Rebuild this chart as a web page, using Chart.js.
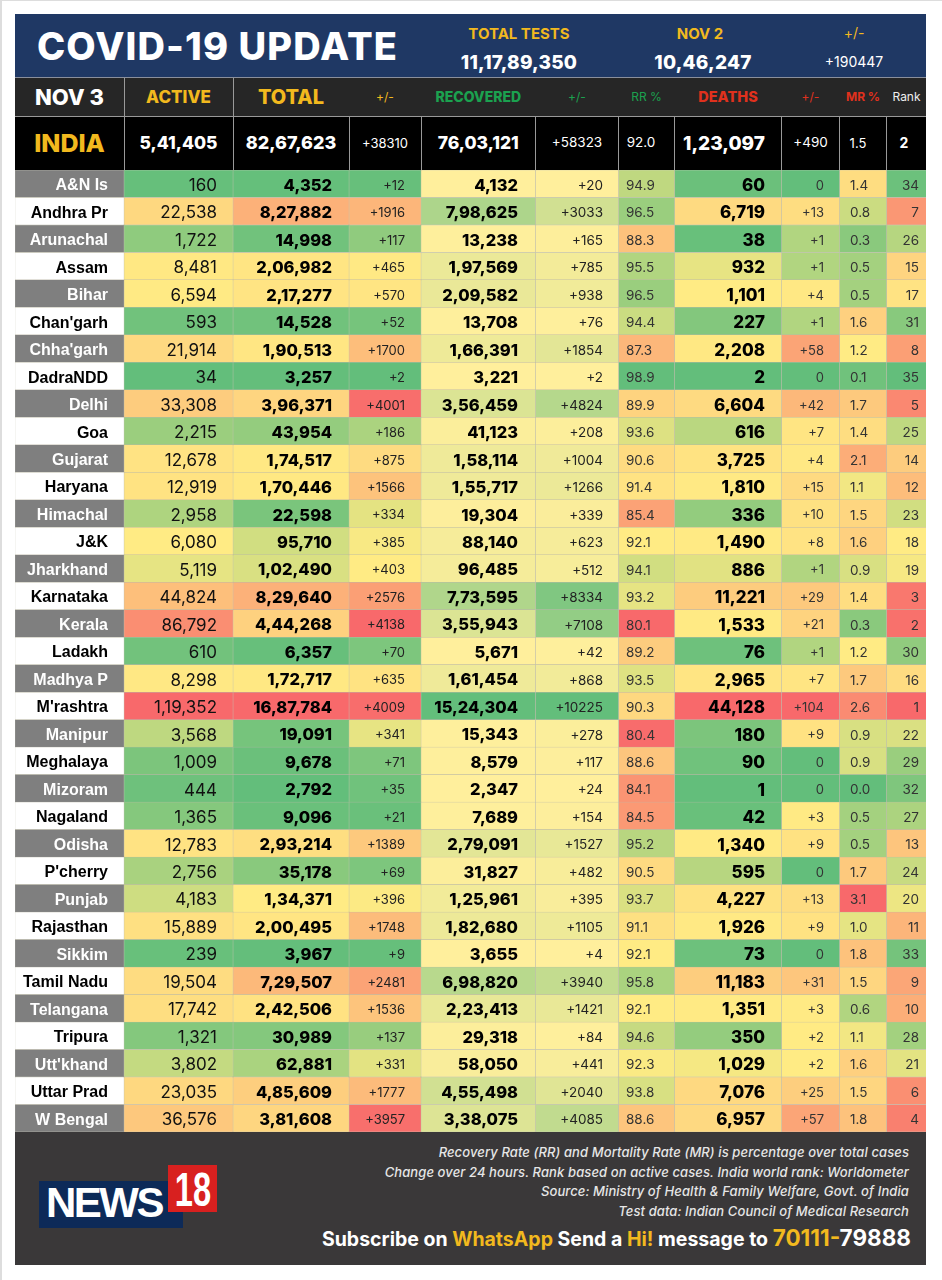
<!DOCTYPE html>
<html>
<head>
<meta charset="utf-8">
<title>COVID-19 Update</title>
<script src="https://cdn.jsdelivr.net/npm/chart.js@4"></script>
<style>
  html, body { margin: 0; padding: 0; background: #fff; }
  body { width: 942px; height: 1280px; position: relative; overflow: hidden; font-family: Inter, sans-serif; border-top: 1px solid #ddd; border-left: 2px solid #ddd; box-sizing: border-box; }
  #page { position: absolute; left: -2px; top: -1px; width: 942px; height: 1280px; }
  .box { position: absolute; }
  .txt { position: absolute; white-space: nowrap; line-height: 1; transform: translateY(-50%); }
  canvas { position: absolute; left: 15px; top: 170px; }
  .y { color: #f2b91e; }
</style>
</head>
<body>
<div id="page"><canvas id="table" width="911" height="962"></canvas></div>
<script>
// table data
var states = ["A&N Is", "Andhra Pr", "Arunachal", "Assam", "Bihar", "Chan'garh", "Chha'garh", "DadraNDD", "Delhi", "Goa", "Gujarat", "Haryana", "Himachal", "J&K", "Jharkhand", "Karnataka", "Kerala", "Ladakh", "Madhya P", "M'rashtra", "Manipur", "Meghalaya", "Mizoram", "Nagaland", "Odisha", "P'cherry", "Punjab", "Rajasthan", "Sikkim", "Tamil Nadu", "Telangana", "Tripura", "Utt'khand", "Uttar Prad", "W Bengal"];
var active = [160, 22538, 1722, 8481, 6594, 593, 21914, 34, 33308, 2215, 12678, 12919, 2958, 6080, 5119, 44824, 86792, 610, 8298, 119352, 3568, 1009, 444, 1365, 12783, 2756, 4183, 15889, 239, 19504, 17742, 1321, 3802, 23035, 36576];
var total = [4352, 827882, 14998, 206982, 217277, 14528, 190513, 3257, 396371, 43954, 174517, 170446, 22598, 95710, 102490, 829640, 444268, 6357, 172717, 1687784, 19091, 9678, 2792, 9096, 293214, 35178, 134371, 200495, 3967, 729507, 242506, 30989, 62881, 485609, 381608];
var totalChange = [12, 1916, 117, 465, 570, 52, 1700, 2, 4001, 186, 875, 1566, 334, 385, 403, 2576, 4138, 70, 635, 4009, 341, 71, 35, 21, 1389, 69, 396, 1748, 9, 2481, 1536, 137, 331, 1777, 3957];
var recovered = [4132, 798625, 13238, 197569, 209582, 13708, 166391, 3221, 356459, 41123, 158114, 155717, 19304, 88140, 96485, 773595, 355943, 5671, 161454, 1524304, 15343, 8579, 2347, 7689, 279091, 31827, 125961, 182680, 3655, 698820, 223413, 29318, 58050, 455498, 338075];
var recoveredChange = [20, 3033, 165, 785, 938, 76, 1854, 2, 4824, 208, 1004, 1266, 339, 623, 512, 8334, 7108, 42, 868, 10225, 278, 117, 24, 154, 1527, 482, 395, 1105, 4, 3940, 1421, 84, 441, 2040, 4085];
var recoveryRate = [94.9, 96.5, 88.3, 95.5, 96.5, 94.4, 87.3, 98.9, 89.9, 93.6, 90.6, 91.4, 85.4, 92.1, 94.1, 93.2, 80.1, 89.2, 93.5, 90.3, 80.4, 88.6, 84.1, 84.5, 95.2, 90.5, 93.7, 91.1, 92.1, 95.8, 92.1, 94.6, 92.3, 93.8, 88.6];
var deaths = [60, 6719, 38, 932, 1101, 227, 2208, 2, 6604, 616, 3725, 1810, 336, 1490, 886, 11221, 1533, 76, 2965, 44128, 180, 90, 1, 42, 1340, 595, 4227, 1926, 73, 11183, 1351, 350, 1029, 7076, 6957];
var deathsChange = [0, 13, 1, 1, 4, 1, 58, 0, 42, 7, 4, 15, 10, 8, 1, 29, 21, 1, 7, 104, 9, 0, 0, 3, 9, 0, 13, 9, 0, 31, 3, 2, 2, 25, 57];
var mortalityRate = [1.4, 0.8, 0.3, 0.5, 0.5, 1.6, 1.2, 0.1, 1.7, 1.4, 2.1, 1.1, 1.5, 1.6, 0.9, 1.4, 0.3, 1.2, 1.7, 2.6, 0.9, 0.9, 0.0, 0.5, 0.5, 1.7, 3.1, 1.0, 1.8, 1.5, 0.6, 1.1, 1.6, 1.5, 1.8];
var rank = [34, 7, 26, 15, 17, 31, 8, 35, 5, 25, 14, 12, 23, 18, 19, 3, 2, 30, 16, 1, 22, 29, 32, 27, 13, 24, 20, 11, 33, 9, 10, 28, 21, 6, 4];

var headers = ["NOV 3", "ACTIVE", "TOTAL", "+/-", "RECOVERED", "+/-", "RR %", "DEATHS", "+/-", "MR %", "Rank"];
var indiaRow = ["INDIA", "5,41,405", "82,67,623", "+38310", "76,03,121", "+58323", "92.0", "1,23,097", "+490", "1.5", "2"];
var testsLabels = ["TOTAL TESTS", "NOV 2", "+/-"];
var testsValues = ["11,17,89,350", "10,46,247", "+190447"];
var notes = [
  "Recovery Rate (RR) and Mortality Rate (MR) is percentage over total cases",
  "Change over 24 hours. Rank based on active cases. India world rank: Worldometer",
  "Source: Ministry of Health & Family Welfare, Govt. of India",
  "Test data: Indian Council of Medical Research"
];

// column layout and look
var columnWidths = [109, 109, 116, 72, 114.5, 83, 56, 107, 58, 47, 40];
var tableLeft = 15;
var GREEN = [99, 190, 123], YELLOW = [255, 235, 132], RED = [248, 105, 107], PALE = [255, 239, 156];

function indian(n) {
  var s = String(n);
  if (s.length <= 3) return s;
  var tail = s.slice(-3), head = s.slice(0, -3);
  return head.replace(/\B(?=(\d{2})+$)/g, ",") + "," + tail;
}
function plus(n) { return n === 0 ? "0" : "+" + n; }
function oneDec(n) { return n.toFixed(1); }

function mix(a, b, t) {
  t = Math.max(0, Math.min(1, t));
  return "rgb(" + a.map(function (v, i) { return Math.round(v + (b[i] - v) * t); }).join(",") + ")";
}
function median(vals) {
  return vals.slice().sort(function (a, b) { return a - b; })[Math.floor(vals.length / 2)];
}
// excel style three colour scale: low end green, median yellow, high end red
function threeColor(vals, flip, midValue) {
  var lo = Math.min.apply(null, vals), hi = Math.max.apply(null, vals);
  var mid = midValue === undefined ? median(vals) : midValue;
  var low = flip ? RED : GREEN, high = flip ? GREEN : RED;
  return vals.map(function (v) {
    return v <= mid ? mix(low, YELLOW, (v - lo) / (mid - lo)) : mix(YELLOW, high, (v - mid) / (hi - mid));
  });
}
function twoColor(vals) {
  var lo = Math.min.apply(null, vals), hi = Math.max.apply(null, vals);
  return vals.map(function (v) { return mix(PALE, GREEN, (v - lo) / (hi - lo)); });
}

var columns = [
  { text: states, fill: states.map(function (s, i) { return i % 2 ? "#ffffff" : "#7f7f7f"; }), font: "bold 16px 'Liberation Sans'", right: 108 },
  { text: active.map(indian), fill: threeColor(active), font: "400 17px Inter", right: 217, color: "#111" },
  { text: total.map(indian), fill: threeColor(total), font: "800 16.5px Inter", right: 332, color: "#000" },
  { text: totalChange.map(plus), fill: threeColor(totalChange), font: "400 13px Inter", right: 405, color: "#222" },
  { text: recovered.map(indian), fill: twoColor(recovered), font: "800 16.5px Inter", right: 518, color: "#000" },
  { text: recoveredChange.map(plus), fill: twoColor(recoveredChange), font: "400 13.5px Inter", right: 603, color: "#222" },
  { text: recoveryRate.map(oneDec), fill: threeColor(recoveryRate, true), font: "400 13.5px Inter", left: 626, color: "#333" },
  { text: deaths.map(indian), fill: threeColor(deaths), font: "800 17px Inter", right: 765, color: "#000" },
  { text: deathsChange.map(plus), fill: threeColor(deathsChange, false, 2), font: "400 13px Inter", right: 824, color: "#333" },
  { text: mortalityRate.map(oneDec), fill: threeColor(mortalityRate), font: "400 13.5px Inter", left: 850, color: "#333" },
  { text: rank.map(String), fill: threeColor(rank, true), font: "400 13.5px Inter", right: 919, color: "#333" }
];

// draws the numbers on top of the heat cells
var cellText = {
  id: "cellText",
  afterDatasetsDraw: function (chart) {
    var ctx = chart.ctx;
    ctx.save();
    ctx.textBaseline = "middle";
    columns.forEach(function (col, c) {
      chart.getDatasetMeta(c).data.forEach(function (bar, i) {
        ctx.font = col.font;
        ctx.fillStyle = c === 0 ? (i % 2 ? "#000" : "#fff") : col.color;
        if (col.right) {
          ctx.textAlign = "right";
          ctx.fillText(col.text[i], col.right - tableLeft, bar.y + 2);
        } else {
          ctx.textAlign = "left";
          ctx.fillText(col.text[i], col.left - tableLeft, bar.y + 2);
        }
      });
    });
    ctx.restore();
  }
};

new Chart(document.getElementById("table"), {
  type: "bar",
  plugins: [cellText],
  data: {
    labels: states,
    datasets: columns.map(function (col, c) {
      return {
        label: headers[c],
        data: states.map(function () { return columnWidths[c]; }),
        backgroundColor: col.fill,
        borderColor: "#bbb9a6",
        borderWidth: 0.5,
        borderSkipped: false,
        barPercentage: 1,
        categoryPercentage: 1
      };
    })
  },
  options: {
    indexAxis: "y",
    responsive: false,
    animation: false,
    layout: { padding: 0 },
    plugins: { legend: { display: false }, tooltip: { enabled: false } },
    scales: {
      x: { stacked: true, display: false, min: 0, max: 911 },
      y: { stacked: true, display: false }
    }
  }
});

// everything around the table
var page = document.getElementById("page");
function box(x, y, w, h, bg) {
  var d = document.createElement("div");
  d.className = "box";
  d.style.cssText = "left:" + x + "px;top:" + y + "px;width:" + w + "px;height:" + h + "px;background:" + bg;
  page.appendChild(d);
  return d;
}
function text(str, x, y, size, weight, color, align, extra) {
  var d = document.createElement("div");
  d.className = "txt";
  d.textContent = str;
  var shift = align === "center" ? "-50%" : align === "right" ? "-100%" : "0";
  d.style.cssText = "left:" + x + "px;top:" + y + "px;font-size:" + size + "px;font-weight:" + weight + ";color:" + color + ";transform:translate(" + shift + ",-50%);" + (extra || "");
  page.appendChild(d);
  return d;
}

box(15, 14, 911, 63, "#1f3864");
box(15, 77, 911, 1, "#8a8f9c");
box(15, 78, 911, 38, "#262626");
box(15, 116, 911, 1, "#999");
box(15, 117, 911, 53, "#000");
box(15, 1132, 911, 133, "#3a3839");

text("COVID-19 UPDATE", 37, 46, 38, 800, "#fff", "left", "letter-spacing:1.1px");
text(testsLabels[0], 519, 33, 15, 700, "#f2b91e", "center");
text(testsLabels[1], 700, 33, 15, 700, "#f2b91e", "center");
text(testsLabels[2], 854, 33, 14, 400, "#f2b91e", "center");
text(testsValues[0], 519, 62, 19, 800, "#fff", "center", "letter-spacing:0.2px");
text(testsValues[1], 703, 62, 19, 800, "#fff", "center", "letter-spacing:0.2px");
text(testsValues[2], 854, 62, 14, 400, "#fff", "center");

// header rows follow the same columns as the chart
var headSize = [22, 17, 20, 12, 14, 12, 12, 14.5, 12, 12, 12];
var headWeight = [800, 800, 800, 400, 800, 400, 400, 800, 400, 700, 400];
var headColor = ["#fff", "#f2b91e", "#f2b91e", "#f2b91e", "#1ba14f", "#1ba14f", "#1ba14f", "#e0311d", "#e0311d", "#e0311d", "#eee"];
var indiaSize = [25, 17.5, 18, 13, 17.5, 13.5, 13.5, 19, 13.5, 13, 14];
var indiaWeight = [800, 800, 800, 400, 800, 400, 400, 800, 400, 400, 700];
var x = tableLeft;
columnWidths.forEach(function (w, c) {
  var mid = x + w / 2;
  text(headers[c], mid, 97, headSize[c], headWeight[c], headColor[c], "center");
  text(indiaRow[c], c === 6 ? 641 : c === 10 ? 904 : c === 7 ? 724 : mid + (c === 9 ? -5 : 0), 143, indiaSize[c], indiaWeight[c], c === 0 ? "#f2b91e" : "#fff", "center");
  x += w;
  if (c < 2) box(x - 0.5, 78, 1, 38, "#999");
  if (c < 10) box(x - 0.5, 117, 1, 53, "#999");
});

notes.forEach(function (line, i) {
  text(line, 909, 1152 + i * 19.7, 13, 500, "#e6e6e6", "right", "font-style:italic;letter-spacing:0.1px");
});

var sub = text("", 911, 1238, 19.5, 700, "#fff", "right");
sub.innerHTML = 'Subscribe on <span class="y">WhatsApp</span> Send a <span class="y">Hi!</span> message to <span class="y" style="font-size:22.5px">70111-</span><span style="font-size:22.5px">79888</span>';

// news18 logo
box(39, 1181, 144, 47, "#0d2a58");
box(168, 1165, 49, 47, "#d8201f");
text("NEWS", 46, 1203, 42, 700, "#fff", "left", "font-family:'Liberation Sans';letter-spacing:-2.5px");
text("18", 192.5, 1190, 48, 700, "#fff", "center", "font-family:'Liberation Sans';transform:translate(-50%,-50%) scale(.68,1)");
</script>
</body>
</html>
